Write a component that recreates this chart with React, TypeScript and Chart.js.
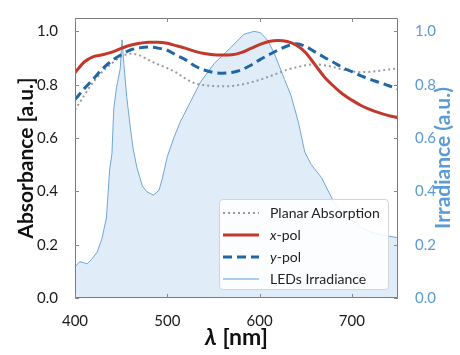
import React, { useEffect, useRef } from "react";
import { Chart, registerables } from "chart.js";

Chart.register(...registerables);

const wavelengths = [400, 410, 420, 430, 440, 450, 460, 470, 480, 490, 500, 510, 520, 530, 540, 550, 560, 570, 580, 590, 600, 610, 620, 630, 640, 650, 660, 670, 680, 690, 700, 710, 720, 730, 740, 750];
const planar = [0.705, 0.76, 0.81, 0.85, 0.88, 0.905, 0.916, 0.91, 0.892, 0.876, 0.862, 0.845, 0.822, 0.805, 0.798, 0.795, 0.794, 0.795, 0.8, 0.808, 0.818, 0.83, 0.843, 0.856, 0.865, 0.873, 0.876, 0.873, 0.866, 0.857, 0.85, 0.847, 0.848, 0.852, 0.857, 0.861];
const xPol = [0.845, 0.885, 0.905, 0.912, 0.922, 0.936, 0.948, 0.955, 0.959, 0.959, 0.955, 0.946, 0.936, 0.925, 0.917, 0.912, 0.911, 0.912, 0.92, 0.935, 0.95, 0.962, 0.966, 0.962, 0.948, 0.92, 0.875, 0.83, 0.795, 0.765, 0.742, 0.722, 0.706, 0.694, 0.684, 0.676];
const yPol = [0.744, 0.785, 0.822, 0.86, 0.89, 0.912, 0.93, 0.938, 0.941, 0.937, 0.929, 0.91, 0.893, 0.87, 0.855, 0.846, 0.843, 0.846, 0.855, 0.872, 0.893, 0.912, 0.93, 0.945, 0.953, 0.943, 0.923, 0.903, 0.884, 0.864, 0.849, 0.833, 0.82, 0.808, 0.796, 0.784];

const irrWavelengths = [400, 405, 410, 413, 418, 424, 429, 434, 436, 437.5, 440, 442, 445, 449, 451, 453, 456, 460, 463, 467, 473, 478, 485, 491, 494.5, 500, 507, 514, 525, 536, 551, 569, 583, 594, 601, 609, 616, 627, 634, 642, 649, 656, 667, 674, 681, 690, 700, 710, 720, 730, 740, 750];
const irradiance = [0.116, 0.136, 0.132, 0.128, 0.145, 0.172, 0.22, 0.3, 0.4, 0.48, 0.54, 0.71, 0.79, 0.86, 0.968, 0.875, 0.756, 0.637, 0.56, 0.49, 0.42, 0.398, 0.386, 0.404, 0.446, 0.53, 0.6, 0.66, 0.735, 0.81, 0.88, 0.94, 0.989, 1.0, 0.995, 0.965, 0.917, 0.82, 0.76, 0.66, 0.547, 0.5, 0.452, 0.404, 0.357, 0.32, 0.29, 0.265, 0.248, 0.238, 0.232, 0.226];

const xTickValues = [400, 500, 600, 700];
const yTickValues = [0, 0.2, 0.4, 0.6, 0.8, 1.0];

const xTitleSymbol = "λ";
const xTitleUnit = " [nm]";
const rightTitle = "Irradiance (a.u.)";

const FONT = "Lato, 'Open Sans', sans-serif";
const RED = "#c0392b";
const DBLUE = "#2067a6";
const GRAY = "#9a9a9a";
const LBLUE = "#5b9bd5";

const framePlugin = {
  id: "frame",
  afterDatasetsDraw(chart: any) {
    const { ctx, chartArea, scales } = chart;
    const { left, right, top, bottom } = chartArea;
    ctx.save();
    ctx.strokeStyle = "#7a7a7a";
    ctx.lineWidth = 1;
    ctx.beginPath();
    ctx.rect(left + 0.5, top + 0.5, right - left - 1, bottom - top - 1);
    ctx.stroke();
    ctx.strokeStyle = "#888";
    ctx.beginPath();
    xTickValues.forEach((v) => {
      const px = Math.round(scales.x.getPixelForValue(v)) + 0.5;
      ctx.moveTo(px, bottom);
      ctx.lineTo(px, bottom - 4);
      ctx.moveTo(px, top);
      ctx.lineTo(px, top + 4);
    });
    yTickValues.forEach((v) => {
      const py = Math.round(scales.y.getPixelForValue(v)) + 0.5;
      ctx.moveTo(left, py);
      ctx.lineTo(left + 4, py);
      const py2 = Math.round(scales.y2.getPixelForValue(v)) + 0.5;
      ctx.moveTo(right, py2);
      ctx.lineTo(right - 4, py2);
    });
    ctx.stroke();
    ctx.restore();
  },
  afterDraw(chart: any) {
    const { ctx, chartArea } = chart;
    const { left, right, top, bottom } = chartArea;
    ctx.save();
    // x-axis title: italic λ + bold [nm]
    const f1 = `italic bold 23px ${FONT}`;
    const f2 = `bold 23px ${FONT}`;
    ctx.font = f1;
    const w1 = ctx.measureText(xTitleSymbol).width;
    ctx.font = f2;
    const w2 = ctx.measureText(xTitleUnit).width;
    const cx = (left + right) / 2;
    const x0 = cx - (w1 + w2) / 2;
    ctx.textBaseline = "middle";
    ctx.textAlign = "left";
    ctx.fillStyle = "#111";
    ctx.font = f1;
    ctx.fillText(xTitleSymbol, x0, 338);
    ctx.font = f2;
    ctx.fillText(xTitleUnit, x0 + w1, 338);
    // right title, reading upward
    ctx.translate(right + 45, (top + bottom) / 2);
    ctx.rotate(-Math.PI / 2);
    ctx.textAlign = "center";
    ctx.font = `bold 21px ${FONT}`;
    ctx.fillStyle = LBLUE;
    ctx.fillText(rightTitle, 0, 0);
    ctx.restore();
  },
};

const legendItems = [
  { label: ["", "Planar Absorption"], color: GRAY, width: 2, dash: "2 3" },
  { label: ["x", "-pol"], color: RED, width: 3, dash: "" },
  { label: ["y", "-pol"], color: DBLUE, width: 3, dash: "9 5" },
  { label: ["", "LEDs Irradiance"], color: LBLUE, width: 1, dash: "" },
];

export default function App() {
  const ref = useRef<HTMLCanvasElement>(null);
  useEffect(() => {
    const canvas = ref.current;
    if (!canvas) return;
    const chart = new Chart(canvas, {
      type: "line",
      data: {
        datasets: [
          {
            label: "Planar Absorption",
            data: wavelengths.map((w, i) => ({ x: w, y: planar[i] })),
            borderColor: GRAY,
            borderWidth: 2,
            borderDash: [2, 3],
            pointRadius: 0,
            cubicInterpolationMode: "monotone",
            yAxisID: "y",
            order: 3,
          },
          {
            label: "x-pol",
            data: wavelengths.map((w, i) => ({ x: w, y: xPol[i] })),
            borderColor: RED,
            borderWidth: 3,
            pointRadius: 0,
            cubicInterpolationMode: "monotone",
            yAxisID: "y",
            order: 1,
          },
          {
            label: "y-pol",
            data: wavelengths.map((w, i) => ({ x: w, y: yPol[i] })),
            borderColor: DBLUE,
            borderWidth: 3,
            borderDash: [9, 5],
            pointRadius: 0,
            cubicInterpolationMode: "monotone",
            yAxisID: "y",
            order: 2,
          },
          {
            label: "LEDs Irradiance",
            data: irrWavelengths.map((w, i) => ({ x: w, y: irradiance[i] })),
            borderColor: "#6fa6d8",
            backgroundColor: "rgba(91,155,213,0.19)",
            fill: "origin",
            borderWidth: 1,
            pointRadius: 0,
            tension: 0,
            yAxisID: "y2",
            order: 10,
          },
        ],
      },
      options: {
        animation: false,
        responsive: false,
        layout: { padding: { top: 5, left: 0, right: 0, bottom: 0 } },
        plugins: { legend: { display: false }, tooltip: { enabled: false } },
        scales: {
          x: {
            type: "linear",
            min: 400,
            max: 750,
            grid: { display: false },
            border: { display: false },
            ticks: {
              stepSize: 100,
              includeBounds: false,
              autoSkip: false,
              maxRotation: 0,
              padding: 6,
              color: "#1a1a1a",
              font: { family: FONT, size: 15 },
            },
            title: { display: false },
            afterFit: (s: any) => {
              s.height = 57;
            },
          },
          y: {
            position: "left",
            min: 0,
            max: 1.05,
            grid: { display: false },
            border: { display: false },
            ticks: {
              stepSize: 0.2,
              includeBounds: false,
              padding: 9,
              color: "#1a1a1a",
              font: { family: FONT, size: 15 },
              callback: (v: any) => Number(v).toFixed(1),
            },
            title: {
              display: true,
              text: "Absorbance [a.u.]",
              color: "#111",
              font: { family: FONT, size: 21, weight: "bold" },
              padding: { top: 14, bottom: 0 },
            },
            afterFit: (s: any) => {
              s.width = 75;
            },
          },
          y2: {
            position: "right",
            min: 0,
            max: 1.05,
            grid: { display: false },
            border: { display: false },
            ticks: {
              stepSize: 0.2,
              includeBounds: false,
              padding: 9,
              color: LBLUE,
              font: { family: FONT, size: 15 },
              callback: (v: any) => Number(v).toFixed(1),
            },
            title: { display: false },
            afterFit: (s: any) => {
              s.width = 62;
            },
          },
        },
      } as any,
      plugins: [framePlugin],
    });
    return () => chart.destroy();
  }, []);

  return (
    <div style={{ position: "absolute", left: 0, top: 0, width: 460, height: 355, background: "#fff" }}>
      <canvas ref={ref} width={460} height={355} style={{ display: "block" }} />
      <div
        style={{
          position: "absolute",
          left: 219,
          top: 199,
          width: 170,
          height: 91,
          boxSizing: "border-box",
          border: "1px solid #d4d4d4",
          borderRadius: 4,
          background: "rgba(255,255,255,0.88)",
          fontFamily: FONT,
          fontSize: 14,
          color: "#222",
        }}
      >
        {legendItems.map((it, i) => (
          <div key={i} style={{ position: "absolute", left: 3, top: 3 + i * 22, height: 20, display: "flex", alignItems: "center" }}>
            <svg width={36} height={6} style={{ display: "block" }}>
              <line x1={0} y1={3} x2={36} y2={3} stroke={it.color} strokeWidth={it.width} strokeDasharray={it.dash || undefined} />
            </svg>
            <span style={{ marginLeft: 11, whiteSpace: "nowrap", lineHeight: "20px" }}>
              {it.label[0] ? <i>{it.label[0]}</i> : null}
              {it.label[1]}
            </span>
          </div>
        ))}
      </div>
    </div>
  );
}
